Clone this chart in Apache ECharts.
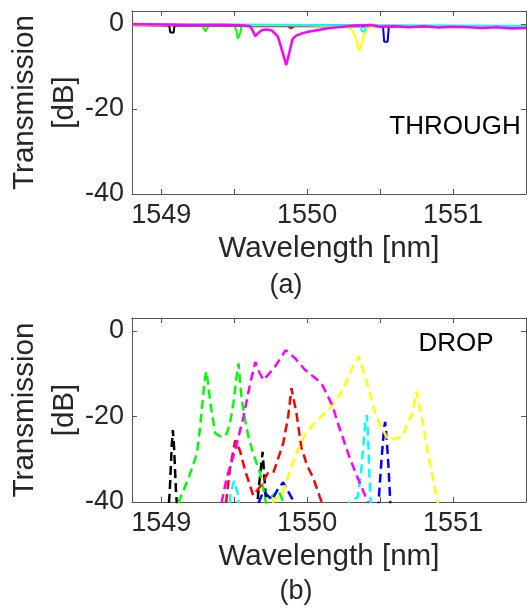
<!DOCTYPE html>
<html>
<head>
<meta charset="utf-8">
<script src="https://cdn.jsdelivr.net/npm/echarts@6/dist/echarts.min.js"></script>
<style>html,body{margin:0;padding:0;background:#fff}#c{width:527px;height:610px}</style>
</head>
<body>
<div id="c"></div>
<script>
// Tick values
const xTickLabels = [1549, 1550, 1551];
const xTicks = [1549, 1549.5, 1550, 1550.5, 1551];
const yTicks = [-40, -20, 0];
const seriesColors = ['#000000', '#00ff00', '#ff0000', '#0000ff', '#ffff00', '#00ffff', '#ff00ff'];

// THROUGH port: [wavelength nm, transmission dB]
const thrBlack = [[1548.8,-0.3],[1549.0,-0.35],[1549.055,-0.4],[1549.062,-2.0],[1549.085,-2.1],[1549.092,-0.4],[1549.3,-0.4],[1549.6,-0.5],[1550.0,-0.5],[1550.5,-0.6],[1551.0,-0.6],[1551.5,-0.7]];
const thrGreen = [[1548.8,-0.2],[1549.2,-0.3],[1549.28,-0.4],[1549.295,-1.2],[1549.303,-1.8],[1549.312,-1.2],[1549.33,-0.4],[1549.5,-0.4],[1549.515,-1.5],[1549.525,-3.5],[1549.532,-3.9],[1549.54,-2.5],[1549.55,-0.8],[1549.57,-0.4],[1550.0,-0.3],[1550.5,-0.4],[1551.0,-0.5],[1551.5,-0.5]];
const thrRed = [[1548.8,-0.35],[1549.5,-0.4],[1549.6,-0.6],[1549.87,-0.6],[1549.89,-1.1],[1549.91,-0.6],[1550.3,-0.5],[1551.5,-0.6]];
const thrBlue = [[1548.8,-0.3],[1550.52,-0.5],[1550.528,-4.2],[1550.552,-4.2],[1550.56,-0.5],[1551.5,-0.6]];
const thrYellow = [[1548.8,-0.3],[1550.0,-0.4],[1550.25,-0.6],[1550.3,-1.2],[1550.33,-2.8],[1550.35,-5.5],[1550.36,-6.3],[1550.37,-5.2],[1550.39,-2.5],[1550.42,-0.9],[1550.5,-0.5],[1551.5,-0.6]];
const thrCyan = [[1548.8,-0.1],[1549.5,-0.15],[1550.0,-0.3],[1550.365,-0.4],[1550.377,-1.8],[1550.385,-2.1],[1550.393,-1.8],[1550.405,-0.4],[1551.0,-0.4],[1551.5,-0.5]];
const thrMagenta = [[1548.8,-0.1],[1549.0,-0.2],[1549.2,-0.3],[1549.4,-0.25],[1549.55,-0.35],[1549.61,-0.6],[1549.63,-1.8],[1549.645,-2.9],[1549.665,-2.2],[1549.69,-1.5],[1549.72,-1.35],[1549.76,-1.6],[1549.8,-3.0],[1549.83,-6.5],[1549.857,-9.7],[1549.88,-6.5],[1549.9,-3.6],[1549.925,-2.8],[1549.97,-2.2],[1550.015,-1.8],[1550.08,-1.45],[1550.15,-1.0],[1550.25,-0.7],[1550.33,-0.4],[1550.44,-0.3],[1550.5,-0.7],[1550.6,-0.6],[1550.7,-0.8],[1550.8,-0.6],[1550.9,-0.9],[1551.0,-0.7],[1551.1,-0.8],[1551.2,-1.0],[1551.3,-0.8],[1551.4,-1.1],[1551.5,-1.0]];

// DROP port: [wavelength nm, transmission dB]
const drpBlack = [[1549.03,-50],[1549.058,-38],[1549.072,-27],[1549.08,-23.2],[1549.088,-27],[1549.102,-38],[1549.13,-50],[1549.64,-50],[1549.665,-38],[1549.695,-28.3],[1549.715,-38],[1549.74,-50]];
const drpGreen = [[1549.08,-50],[1549.12,-40],[1549.19,-34.2],[1549.245,-28.7],[1549.265,-23],[1549.28,-17.7],[1549.3,-11],[1549.31,-9.5],[1549.32,-12],[1549.337,-16.9],[1549.37,-23.9],[1549.415,-24.9],[1549.45,-24],[1549.475,-21],[1549.495,-16.9],[1549.514,-11.5],[1549.53,-7.6],[1549.55,-15.4],[1549.575,-20.9],[1549.6,-25],[1549.63,-28.6],[1549.678,-33.3],[1549.7,-37],[1549.72,-40.5],[1549.75,-39],[1549.78,-38],[1549.8,-37.3],[1549.82,-38.5],[1549.84,-40.5],[1549.86,-50]];
const drpRed = [[1549.42,-50],[1549.445,-40],[1549.47,-32.6],[1549.507,-25.6],[1549.54,-28],[1549.575,-32.6],[1549.62,-37.3],[1549.63,-38.5],[1549.676,-36.5],[1549.73,-33.3],[1549.768,-33.2],[1549.8,-30],[1549.836,-26.3],[1549.87,-20.1],[1549.893,-13.4],[1549.927,-19.3],[1549.96,-27.1],[1550.0,-31.5],[1550.04,-34.2],[1550.087,-38.8],[1550.1,-40],[1550.12,-50]];
const drpBlue = [[1549.64,-50],[1549.67,-40],[1549.7,-37.5],[1549.73,-38.5],[1549.76,-39.5],[1549.8,-37],[1549.836,-35.4],[1549.87,-37.5],[1549.91,-40],[1549.93,-50],[1550.47,-50],[1550.49,-40],[1550.51,-30],[1550.528,-22.5],[1550.535,-21.3],[1550.545,-25],[1550.558,-32],[1550.57,-40],[1550.59,-50]];
const drpYellow = [[1549.74,-50],[1549.77,-39.5],[1549.8,-39],[1549.83,-38],[1549.854,-35.6],[1549.9,-31],[1549.945,-27.1],[1549.99,-24],[1550.06,-21.3],[1550.166,-17.7],[1550.245,-13.8],[1550.313,-8.4],[1550.355,-6],[1550.405,-11.5],[1550.46,-18.5],[1550.505,-22.4],[1550.56,-25.6],[1550.65,-24.8],[1550.72,-19.3],[1550.75,-14.2],[1550.79,-20.9],[1550.825,-27.9],[1550.87,-35.7],[1550.895,-40],[1550.92,-50]];
const drpCyan = [[1549.44,-50],[1549.475,-38],[1549.5,-35.1],[1549.525,-38],[1549.56,-50],[1550.26,-50],[1550.29,-40],[1550.348,-38.8],[1550.37,-33],[1550.385,-27],[1550.4,-21],[1550.41,-19.7],[1550.418,-25],[1550.425,-32],[1550.435,-40],[1550.46,-50]];
const drpMagenta = [[1549.38,-50],[1549.415,-40],[1549.45,-34.2],[1549.507,-27.9],[1549.564,-20.1],[1549.61,-12.3],[1549.645,-7.3],[1549.67,-9.5],[1549.70,-11.5],[1549.74,-10],[1549.78,-8.4],[1549.853,-4.5],[1549.92,-6.5],[1549.985,-9.1],[1550.087,-11.9],[1550.105,-12.7],[1550.177,-17.7],[1550.2,-20.5],[1550.29,-29.5],[1550.348,-34.5],[1550.416,-40],[1550.45,-50]];

const thrSeries = [thrBlack, thrGreen, thrRed, thrBlue, thrYellow, thrCyan, thrMagenta];
const drpSeries = [drpBlack, drpGreen, drpRed, drpBlue, drpYellow, drpCyan, drpMagenta];

const FONT = 'Liberation Sans';
const TXT = '#262626';
const AX = '#555555';

function makeX(grid, pos, main) {
  return {
    type: 'value', gridIndex: grid, position: pos, min: 1548.8, max: 1551.5,
    axisLine: { show: true, onZero: false, lineStyle: { color: AX, width: 1 } },
    axisTick: { show: true, inside: true, length: 5, customValues: xTicks, lineStyle: { color: AX, width: 1 } },
    axisLabel: main ? { show: true, customValues: xTickLabels, formatter: v => String(v), fontSize: 27, color: TXT, fontFamily: FONT, margin: 8 } : { show: false },
    splitLine: { show: false },
    name: main ? 'Wavelength [nm]' : '', nameLocation: 'middle', nameGap: 40, nameMoveOverlap: false,
    nameTextStyle: { fontSize: 29.6, color: TXT, fontFamily: FONT }
  };
}
function makeY(grid, pos, main) {
  return {
    type: 'value', gridIndex: grid, position: pos, min: -40, max: 3,
    axisLine: { show: true, onZero: false, lineStyle: { color: AX, width: 1 } },
    axisTick: { show: true, inside: true, length: 5, customValues: yTicks, lineStyle: { color: AX, width: 1 } },
    axisLabel: main ? { show: true, customValues: yTicks, formatter: v => String(v), fontSize: 27, color: TXT, fontFamily: FONT, margin: 8 } : { show: false },
    splitLine: { show: false },
    name: main ? 'Transmission\n[dB]' : '', nameLocation: 'middle', nameRotate: 90, nameGap: 47, nameMoveOverlap: false,
    nameTextStyle: { fontSize: 29.6, color: TXT, fontFamily: FONT, lineHeight: 40, align: 'center' }
  };
}

const series = [];
thrSeries.forEach((d, i) => series.push({
  type: 'line', xAxisIndex: 0, yAxisIndex: 0, data: d, showSymbol: false, symbol: 'none',
  clip: true, animation: false, lineStyle: { color: seriesColors[i], width: i === 6 ? 2.5 : 2 }
}));
drpSeries.forEach((d, i) => series.push({
  type: 'line', xAxisIndex: 2, yAxisIndex: 2, data: d, showSymbol: false, symbol: 'none',
  clip: true, animation: false, lineStyle: { color: seriesColors[i], width: 2.5, type: [9, 5] }
}));

const chart = echarts.init(document.getElementById('c'), null, { renderer: 'canvas' });
chart.setOption({
  backgroundColor: '#ffffff',
  animation: false,
  grid: [
    { left: 132, top: 11, width: 394, height: 183, containLabel: false, outerBoundsMode: 'none' },
    { left: 132, top: 318, width: 394, height: 184, containLabel: false, outerBoundsMode: 'none' }
  ],
  xAxis: [makeX(0, 'bottom', true), makeX(0, 'top', false), makeX(1, 'bottom', true), makeX(1, 'top', false)],
  yAxis: [makeY(0, 'left', true), makeY(0, 'right', false), makeY(1, 'left', true), makeY(1, 'right', false)],
  series: series,
  graphic: [
    { type: 'text', x: 455, y: 127, style: { text: 'THROUGH', fontSize: 26, fill: '#000', fontFamily: FONT, align: 'center', verticalAlign: 'middle' } },
    { type: 'text', x: 456, y: 344, style: { text: 'DROP', fontSize: 26, fill: '#000', fontFamily: FONT, align: 'center', verticalAlign: 'middle' } },
    { type: 'text', x: 286, y: 286, style: { text: '(a)', fontSize: 27, fill: TXT, fontFamily: FONT, align: 'center', verticalAlign: 'middle' } },
    { type: 'text', x: 296, y: 592, style: { text: '(b)', fontSize: 27, fill: TXT, fontFamily: FONT, align: 'center', verticalAlign: 'middle' } }
  ]
});
</script>
</body>
</html>
